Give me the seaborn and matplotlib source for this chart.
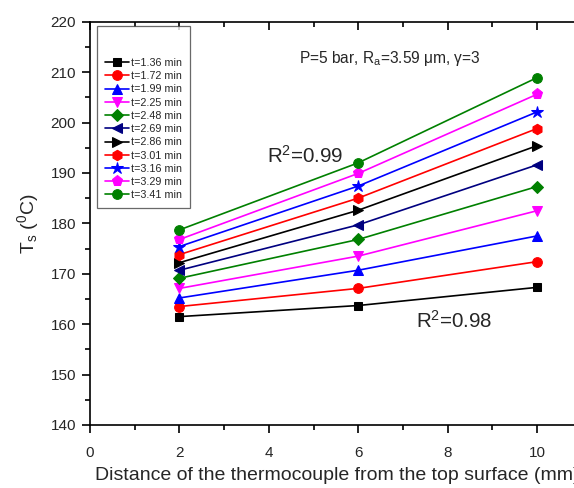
import numpy as np
import pandas as pd
import matplotlib
matplotlib.use("Agg")
import matplotlib.pyplot as plt
from matplotlib.ticker import MultipleLocator
import seaborn as sns


# Data
distance = [2, 6, 10]

times = ["1.36", "1.72", "1.99", "2.25", "2.48", "2.69",
         "2.86", "3.01", "3.16", "3.29", "3.41"]

t_136 = [161.5, 163.7, 167.3]
t_172 = [163.5, 167.1, 172.4]
t_199 = [165.2, 170.7, 177.5]
t_225 = [167.1, 173.5, 182.5]
t_248 = [169.1, 176.8, 187.3]
t_269 = [170.7, 179.7, 191.6]
t_286 = [172.2, 182.6, 195.4]
t_301 = [173.8, 185.0, 198.8]
t_316 = [175.4, 187.4, 202.1]
t_329 = [176.8, 189.9, 205.6]
t_341 = [178.7, 192.0, 208.9]

series = [t_136, t_172, t_199, t_225, t_248, t_269,
          t_286, t_301, t_316, t_329, t_341]

colors = ["#000000", "#FF0000", "#0000FF", "#FF00FF", "#008000", "#000080",
          "#000000", "#FF0000", "#0000FF", "#FF00FF", "#008000"]
markers = ["s", "o", "^", "v", "D", "<", ">", "h", "*", "p", "o"]
msizes = [6, 7, 7.5, 7.5, 6, 7.5, 7.5, 7.5, 9, 8, 7]


# Long table for seaborn
rows = []
for t, vals in zip(times, series):
    for d, v in zip(distance, vals):
        rows.append({"time": "t=" + t + " min", "distance": d, "Ts": v})
df = pd.DataFrame(rows)


sns.set_style("ticks")
plt.rcParams["font.family"] = ["Liberation Sans", "DejaVu Sans"]
plt.rcParams["mathtext.default"] = "regular"

fig = plt.figure(figsize=(5.74, 4.88), dpi=100)
ax = fig.add_axes([90 / 574, 63 / 488, 536.4 / 574, 403.3 / 488])

for i, t in enumerate(times):
    sub = df[df["time"] == "t=" + t + " min"]
    sns.lineplot(
        data=sub, x="distance", y="Ts", ax=ax,
        color=colors[i], marker=markers[i], markersize=msizes[i],
        markeredgecolor=colors[i], markerfacecolor=colors[i],
        linewidth=1.2, label="t=" + t + " min",
    )

ax.set_xlim(0, 12)
ax.set_ylim(140, 220)

ax.set_xticks([0, 2, 4, 6, 8, 10])
ax.xaxis.set_minor_locator(MultipleLocator(1))
ax.yaxis.set_major_locator(MultipleLocator(10))
ax.yaxis.set_minor_locator(MultipleLocator(5))

for s in ax.spines.values():
    s.set_visible(True)
    s.set_linewidth(1.2)
    s.set_color("black")

ax.tick_params(axis="both", which="major", length=6, width=1.2,
               labelsize=11, color="black")
ax.tick_params(axis="both", which="minor", length=3.5, width=1.2, color="black")
ax.tick_params(axis="x", which="both", top=True, direction="out", pad=9)
ax.tick_params(axis="y", which="both", direction="out", pad=4)
for tk in ax.xaxis.get_major_ticks() + ax.xaxis.get_minor_ticks():
    tk.tick2line.set_marker(3)  # top ticks point inward

ax.set_xlabel("Distance of the thermocouple from the top surface (mm)",
              fontsize=14)
ax.xaxis.set_label_coords(0.4605, -0.103)
ax.set_ylabel("T$_s$ ($^0$C)", fontsize=14, labelpad=7)

ax.text(4.68, 211.8, "P=5 bar, R$_a$=3.59 \u03bcm, \u03b3=3", fontsize=11.2,
        va="baseline", ha="left")
ax.text(3.96, 192.0, "R$^2$=0.99", fontsize=14.8, va="baseline", ha="left")
ax.text(7.29, 159.2, "R$^2$=0.98", fontsize=14.8, va="baseline", ha="left")

leg = ax.legend(loc="upper left", bbox_to_anchor=(0.013, 0.989),
                borderaxespad=0, fontsize=7.75, frameon=True, fancybox=False,
                handlelength=2.3, handletextpad=0.2, labelspacing=0.3,
                borderpad=0.7, title=" ", title_fontsize=16)
leg.get_frame().set_edgecolor("#444444")
leg.get_frame().set_linewidth(0.9)

fig.savefig("out.png", dpi=100)
